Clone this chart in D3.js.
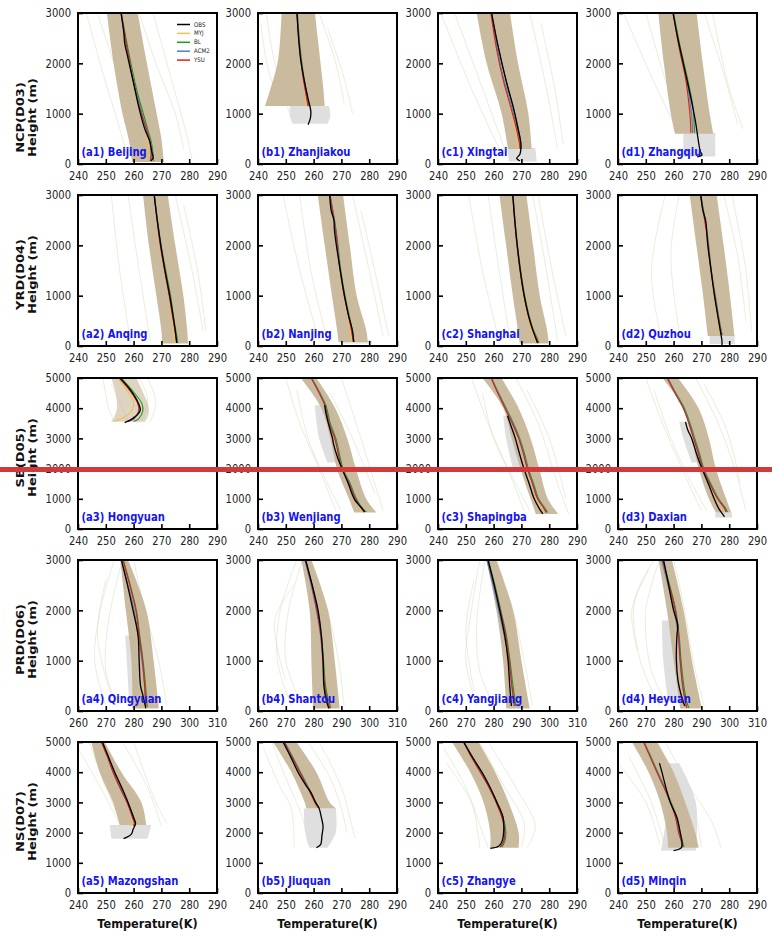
<!DOCTYPE html>
<html>
<head>
<meta charset="utf-8">
<script src="https://cdn.jsdelivr.net/npm/d3@7"></script>
<style>
  body { margin: 0; background: #fff; }
  svg { display: block; font-family: "DejaVu Sans", sans-serif; }
</style>
</head>
<body>
<svg id="chart" width="772" height="937"></svg>
<script>
// ---- stations and axes ----
const stations = ["(a1) Beijing","(b1) Zhanjiakou","(c1) Xingtai","(d1) Zhangqiu",
  "(a2) Anqing","(b2) Nanjing","(c2) Shanghai","(d2) Quzhou",
  "(a3) Hongyuan","(b3) Wenjiang","(c3) Shapingba","(d3) Daxian",
  "(a4) Qingyuan","(b4) Shantou","(c4) Yangjiang","(d4) Heyuan",
  "(a5) Mazongshan","(b5) Jiuquan","(c5) Zhangye","(d5) Minqin"];
const regions = ["NCP(D03)","YRD(D04)","SB(D05)","PRD(D06)","NS(D07)"];
const tempDomains = [[240,290],[240,290],[240,290],[260,310],[240,290]];
const tempTicks = [[240,250,260,270,280,290],[240,250,260,270,280,290],[240,250,260,270,280,290],
  [260,270,280,290,300,310],[240,250,260,270,280,290]];
const heightTops = [3000,3000,5000,3000,5000];
const heightTicks = [[0,1000,2000,3000],[0,1000,2000,3000],[0,1000,2000,3000,4000,5000],
  [0,1000,2000,3000],[0,1000,2000,3000,4000,5000]];
const schemes = ["OBS","MYJ","BL","ACM2","YSU"];

// ---- observed profiles [T(K), height(m)] ----
const obs = [
  [[255.5,3000],[256.5,2600],[256.8,2400],[258,2100],[260,1600],[262,1100],[264,700],[265.8,450],[266.5,250],[267,120],[266.2,60]],
  [[254,3000],[254.6,2500],[255.3,2100],[256.5,1700],[258,1300],[259,1050],[258.8,900],[258,780]],
  [[259.3,3000],[261,2500],[263,2000],[265,1550],[267.2,1100],[268.8,700],[269.8,400],[269.5,200],[268.3,110],[269.5,60]],
  [[259.8,3000],[261.5,2500],[263.5,2000],[265.5,1500],[267,1100],[268,800],[268.8,500],[269.6,250],[270.2,180],[268.5,140]],
  [[267.4,3000],[268.5,2500],[269.8,2000],[271.3,1500],[273,1000],[274.2,600],[275,300],[275.5,60]],
  [[265.8,3000],[266.3,2700],[267.3,2500],[267.5,2300],[268.2,2000],[269.6,1500],[271.1,1000],[272.6,600],[274,300],[274.4,80]],
  [[266.9,3000],[267.6,2500],[268.5,2000],[269.6,1500],[271,1000],[272.6,600],[274.2,300],[275.8,60]],
  [[269.8,3000],[270.5,2700],[271.5,2500],[272.3,2000],[273.5,1500],[274.7,1000],[275.9,600],[276.8,300],[277.4,100],[277.4,20]],
  [[256.8,3520],[259.5,3650],[262.4,3930],[261,4300],[258.5,4650],[255.3,4980]],
  [[264,4100],[264.5,3800],[265.3,3500],[266.8,3000],[267.2,2800],[268.5,2400],[270.2,2000],[272.5,1500],[274.6,1000],[277.7,650],[278.3,560]],
  [[265,3750],[266.3,3400],[267.8,3000],[269.3,2500],[270.9,2000],[272.8,1500],[274.6,1000],[276.3,700],[277.7,500]],
  [[264.3,3550],[265,3300],[266.5,3000],[268.2,2500],[270.2,2000],[272.5,1500],[274.6,1000],[276.4,650],[277.6,500],[278.3,400]],
  [[275.6,3000],[277.8,2500],[279.8,2000],[281.6,1500],[282,1000],[282.5,500],[283.4,300],[284.4,50]],
  [[277.1,3000],[279.5,2500],[281.6,2000],[282.8,1500],[283.4,1000],[283.7,500],[284.6,200],[285.5,50]],
  [[278,3000],[280.2,2500],[282.2,2000],[284,1500],[285.2,1000],[285.8,500],[286.4,100]],
  [[276.4,3000],[278.2,2500],[280,2000],[281.5,1700],[281.2,1500],[281,1000],[281.6,600],[282.8,300],[284,100]],
  [[248.8,5000],[251,4500],[253.2,4000],[255.7,3500],[258,3000],[260,2500],[260.7,2300],[259.8,2100],[259.2,1950],[256.4,1800]],
  [[249,5000],[251.8,4500],[254.4,4000],[257,3600],[259.2,3300],[260.7,3000],[262,2800],[262.8,2500],[263.4,2200],[263,1900],[262.8,1700],[262.5,1600],[261,1500]],
  [[249.2,5000],[252.4,4500],[255.8,4000],[258.7,3500],[261.2,3000],[263.4,2500],[263.6,2000],[263,1700],[261.8,1550],[258.8,1480]],
  [[254.9,4300],[255.8,4000],[257.2,3500],[258.8,3000],[261.2,2500],[262.4,2000],[263,1700],[262.8,1500],[260,1400]]
];

// ---- simulated profiles, one array per PBL scheme ----
const myj = [
  [[255.5,3000],[258,2200],[260.5,1500],[262.8,1000],[264.5,650],[265.2,400],[264.8,200],[264.5,60]],
  [[254,3000],[254.8,2400],[256,1800],[257,1400],[257.3,1150]],
  [[259,3000],[261,2300],[263.3,1700],[266.2,1100],[267.8,700],[268.6,400],[268.5,300]],
  [[259.8,3000],[262,2300],[264.3,1700],[265.6,1200],[266,900],[266,620]],
  [[267.4,3000],[269.6,2000],[272.7,1000],[274,500],[274.6,150],[274.4,60]],
  [[265.8,3000],[267.9,2300],[269.5,1500],[271,1000],[273,400],[273.8,80]],
  [[266.9,3000],[268.4,2000],[270.8,1000],[273.2,400],[274.8,150],[275,60]],
  [[269.6,3000],[272,2200],[273.4,1500],[274.7,1000],[276.3,400],[276.8,220]],
  [[254.5,4980],[257.5,4600],[260,4200],[259.5,3950],[256.5,3700],[253,3570]],
  [[259.1,5000],[262,4500],[264,4100],[265.6,3500],[267.6,3000],[270.2,2000],[272.7,1500],[274.8,1000],[277,650],[277,560]],
  [[259.1,5000],[261.5,4500],[264.1,4000],[266.7,3500],[269,3000],[270.7,2500],[272.1,2000],[273.9,1500],[275.6,1000],[277.6,700],[278.3,550]],
  [[257.7,5000],[260.5,4500],[263.5,4000],[265.5,3500],[267.2,3000],[268.9,2500],[270.5,2000],[272.9,1500],[275.6,1000],[277.8,700],[278.4,560]],
  [[276.2,3000],[278.6,2500],[280.8,2000],[282,1500],[283.1,1000],[283.7,500],[283.8,80]],
  [[277.1,3000],[279.3,2500],[281.2,2000],[282.6,1500],[283.4,1000],[283.9,500],[284.5,250],[285,60]],
  [[278,3000],[280.3,2500],[282.4,2000],[284.4,1500],[285.7,1000],[286.8,500],[287.8,100]],
  [[276,3000],[278.4,2500],[280.6,2000],[281.8,1500],[282.4,1000],[283.2,500],[283.9,150],[284,60]],
  [[248.4,5000],[250.6,4500],[252.6,4000],[255,3500],[257.6,3000],[259.5,2500],[259.8,2320],[258.6,2230]],
  [[249.4,5000],[252.2,4500],[255,4000],[257.8,3500],[260.4,3000],[261.3,2820]],
  [[249.2,5000],[252,4500],[255.2,4000],[258.3,3500],[260.9,3000],[263,2500],[264,2000],[263.8,1700],[262,1520]],
  [[249.2,5000],[251.6,4500],[254,4000],[256.5,3500],[258.8,3000],[260.7,2500],[261.8,2000],[262.9,1700],[263.2,1520]]
];
const bl = [
  [[255.6,3000],[258.3,2200],[261,1500],[263.5,1000],[265.3,650],[266.5,400],[267,200],[267.2,60]],
  [[254.2,3000],[255,2400],[256.3,1800],[257.5,1400],[258.2,1150]],
  [[259.2,3000],[261.8,2300],[264.3,1700],[267.2,1100],[268.9,700],[269.9,400],[270,300]],
  [[260,3000],[262.5,2300],[265,1700],[266.8,1200],[267.3,900],[267.5,620]],
  [[267.5,3000],[269.9,2000],[273.3,1000],[274.6,500],[275.7,150],[275.9,60]],
  [[265.9,3000],[268.1,2300],[269.8,1500],[271.3,1000],[273.6,400],[274.6,80]],
  [[267,3000],[268.6,2000],[271.2,1000],[273.8,400],[275.7,150],[276.3,60]],
  [[269.8,3000],[272.2,2200],[273.6,1500],[275,1000],[276.8,400],[277.5,220]],
  [[255.8,4980],[259.4,4600],[263,4150],[263.3,3900],[261.8,3650],[260,3560]],
  [[259.3,5000],[262.3,4500],[264.4,4100],[266,3500],[268,3000],[270.6,2000],[273.2,1500],[275.4,1000],[277.9,650],[279,570]],
  [[259.3,5000],[261.8,4500],[264.5,4000],[267.1,3500],[269.4,3000],[271.1,2500],[272.5,2000],[274.4,1500],[276.2,1000],[278.4,700],[279.4,550]],
  [[257.9,5000],[260.8,4500],[263.9,4000],[265.9,3500],[267.6,3000],[269.3,2500],[270.9,2000],[273.4,1500],[276.2,1000],[278.6,700],[279.4,560]],
  [[276.3,3000],[278.8,2500],[281,2000],[282.2,1500],[283.4,1000],[284.3,500],[284.9,80]],
  [[277.2,3000],[279.5,2500],[281.4,2000],[282.8,1500],[283.6,1000],[284.3,500],[285.2,250],[286.2,60]],
  [[278.1,3000],[280.5,2500],[282.6,2000],[284.6,1500],[285.9,1000],[287,500],[288,100]],
  [[276.1,3000],[278.6,2500],[280.8,2000],[282,1500],[282.7,1000],[283.7,500],[284.9,150],[285.5,60]],
  [[248.6,5000],[250.8,4500],[252.9,4000],[255.3,3500],[257.9,3000],[260,2500],[260.6,2300],[260.2,2220]],
  [[249.6,5000],[252.5,4500],[255.3,4000],[258.1,3500],[260.8,3000],[262,2820]],
  [[249.4,5000],[252.3,4500],[255.5,4000],[258.6,3500],[261.3,3000],[263.4,2500],[264.4,2000],[264,1700],[263,1520]],
  [[249.4,5000],[251.9,4500],[254.3,4000],[256.8,3500],[259.1,3000],[261.1,2500],[262.2,2000],[263.2,1700],[263.7,1520]]
];
const acm2 = [
  [[255.4,3000],[257.9,2200],[260.6,1500],[263,1000],[265,650],[266.2,400],[266.5,200],[266.2,60]],
  [[254.1,3000],[254.9,2400],[256.1,1800],[257.3,1400],[258.1,1150]],
  [[259.1,3000],[261.3,2300],[263.6,1700],[266.7,1100],[268.5,700],[269.5,400],[269.7,300]],
  [[259.9,3000],[262.2,2300],[264.6,1700],[266,1200],[266.6,900],[266.8,620]],
  [[267.5,3000],[269.7,2000],[272.9,1000],[274.4,500],[275.4,150],[275.6,60]],
  [[265.9,3000],[268,2300],[269.6,1500],[271.1,1000],[273.4,400],[274.4,80]],
  [[267,3000],[268.5,2000],[271,1000],[273.6,400],[275.5,150],[276.1,60]],
  [[269.7,3000],[272.1,2200],[273.5,1500],[274.9,1000],[276.7,400],[277.4,220]],
  [[255.2,4980],[258.7,4600],[261.7,4150],[262,3900],[260.2,3650],[257.8,3560]],
  [[259.2,5000],[262.1,4500],[264.1,4100],[265.7,3500],[267.7,3000],[270.3,2000],[272.9,1500],[275.1,1000],[277.6,650],[278.6,570]],
  [[259.2,5000],[261.6,4500],[264.2,4000],[266.8,3500],[269.1,3000],[270.8,2500],[272.2,2000],[274.1,1500],[275.9,1000],[278.1,700],[279,550]],
  [[257.8,5000],[260.6,4500],[263.6,4000],[265.6,3500],[267.3,3000],[269,2500],[270.6,2000],[273.1,1500],[275.9,1000],[278.3,700],[279,560]],
  [[275.8,3000],[278,2500],[280.2,2000],[281.7,1500],[283,1000],[283.9,500],[284.3,80]],
  [[276.9,3000],[279.1,2500],[281,2000],[282.5,1500],[283.3,1000],[283.9,500],[284.7,250],[285.7,60]],
  [[277.6,3000],[279.8,2500],[281.8,2000],[283.8,1500],[285.5,1000],[286.5,500],[287.4,100]],
  [[275.7,3000],[278,2500],[280.2,2000],[281.6,1500],[282.3,1000],[283.2,500],[284.3,150],[284.7,60]],
  [[248.5,5000],[250.7,4500],[252.7,4000],[255.1,3500],[257.7,3000],[259.7,2500],[260.4,2300],[259.9,2220]],
  [[249.5,5000],[252.3,4500],[255.1,4000],[257.9,3500],[260.6,3000],[261.7,2820]],
  [[249.3,5000],[252.1,4500],[255.3,4000],[258.4,3500],[261,3000],[263.1,2500],[264.1,2000],[263.7,1700],[262.5,1520]],
  [[249.3,5000],[251.7,4500],[254.1,4000],[256.6,3500],[258.9,3000],[260.8,2500],[261.9,2000],[262.9,1700],[263.4,1520]]
];
const ysu = [
  [[255.5,3000],[258,2200],[260.5,1500],[262.8,1000],[264.8,650],[266,400],[266.3,200],[266,60]],
  [[254,3000],[254.8,2400],[256,1800],[257.2,1400],[258,1150]],
  [[259,3000],[261,2300],[263.3,1700],[266.3,1100],[268.2,700],[269.3,400],[269.5,300]],
  [[259.8,3000],[262,2300],[264.3,1700],[265.5,1200],[266,900],[266.2,620]],
  [[267.4,3000],[269.6,2000],[272.8,1000],[274.3,500],[275.3,150],[275.5,60]],
  [[265.8,3000],[267.9,2300],[269.5,1500],[271,1000],[273.3,400],[274.3,80]],
  [[266.9,3000],[268.4,2000],[270.9,1000],[273.5,400],[275.4,150],[276,60]],
  [[269.6,3000],[272,2200],[273.4,1500],[274.8,1000],[276.6,400],[277.3,220]],
  [[255,4980],[258.5,4600],[261.5,4150],[261.8,3900],[260,3650],[257.5,3560]],
  [[259.1,5000],[262,4500],[264,4100],[265.6,3500],[267.6,3000],[270.2,2000],[272.8,1500],[275,1000],[277.5,650],[278.5,570]],
  [[259.1,5000],[261.5,4500],[264.1,4000],[266.7,3500],[269,3000],[270.7,2500],[272.1,2000],[274,1500],[275.8,1000],[278,700],[278.9,550]],
  [[257.7,5000],[260.5,4500],[263.5,4000],[265.5,3500],[267.2,3000],[268.9,2500],[270.5,2000],[273,1500],[275.8,1000],[278.2,700],[278.9,560]],
  [[276.2,3000],[278.6,2500],[280.8,2000],[282,1500],[283.2,1000],[284,500],[284.4,80]],
  [[277.1,3000],[279.3,2500],[281.2,2000],[282.6,1500],[283.4,1000],[284,500],[284.8,250],[285.8,60]],
  [[278,3000],[280.3,2500],[282.4,2000],[284.4,1500],[285.6,1000],[286.6,500],[287.5,100]],
  [[276,3000],[278.4,2500],[280.6,2000],[281.8,1500],[282.4,1000],[283.3,500],[284.4,150],[284.8,60]],
  [[248.4,5000],[250.6,4500],[252.6,4000],[255,3500],[257.6,3000],[259.6,2500],[260.3,2300],[259.8,2220]],
  [[249.4,5000],[252.2,4500],[255,4000],[257.8,3500],[260.5,3000],[261.6,2820]],
  [[249.2,5000],[252,4500],[255.2,4000],[258.3,3500],[260.9,3000],[263,2500],[264,2000],[263.6,1700],[262.4,1520]],
  [[249.2,5000],[251.6,4500],[254,4000],[256.5,3500],[258.8,3000],[260.7,2500],[261.8,2000],[262.8,1700],[263.3,1520]]
];

// ---- envelope of all simulated members [height, Tmin, Tmax] ----
const modelSpread = [
  [[3000,250.4,261.5],[2000,252.8,264.8],[1000,256,268.3],[500,258.2,270],[100,259.3,270.8],[40,259.5,271]],
  [[3000,248.5,260.5],[2500,248,261.5],[2000,247,262.5],[1500,244.5,263.5],[1150,242.5,264]],
  [[3000,253.9,265.9],[2000,257.5,268.8],[1000,262.9,272.5],[300,265.2,273.7]],
  [[3000,254.5,268.3],[2000,256.5,270.5],[1000,259,273],[600,260.5,274.3]],
  [[3000,263.4,272.3],[2000,265.5,275],[1000,268.2,277.9],[300,270,279.3],[50,270.3,279.6]],
  [[3000,261.5,270.6],[2000,264,273],[1000,266.6,275.5],[300,268.5,279],[80,269,279.5]],
  [[3000,262.1,271.8],[2000,264.5,274.2],[1000,266.9,276.6],[300,268.8,279.3],[50,269.4,279.8]],
  [[3000,265.8,275.5],[2000,268.2,278],[1000,270.6,280.3],[200,272.3,281.9]],
  [[5000,252,261],[4500,253.5,263.5],[4000,254,265.5],[3700,253,265],[3550,252,264]],
  [[5000,255.4,261],[4000,262.8,267.8],[3000,266,272.1],[2000,268.4,275.2],[1000,272.7,278.9],[550,274.6,282.6]],
  [[5000,256,262.8],[4000,263.5,269],[3000,266.5,273.3],[2000,269.6,276.4],[1000,273.3,279.5],[500,275.2,283.2]],
  [[5000,256,261.6],[4000,263.5,269],[3000,266.5,272.7],[2000,269,275.2],[1000,272.7,278.9],[550,275.2,280.7]],
  [[3000,275.2,278],[2000,277.2,284.6],[1000,279.2,287.2],[50,279.6,289.1]],
  [[3000,275.6,279.2],[2000,278.6,285.2],[1000,279.2,287.6],[50,279.8,289.4]],
  [[3000,277.4,281],[2000,281,287],[1000,283.4,290],[50,284.6,293]],
  [[3000,274.6,279.4],[2000,277.6,283.6],[1000,280,286.6],[50,282.4,290.2]],
  [[5000,244.8,249.6],[4000,247.8,255.6],[3000,252.6,262.8],[2250,255,264.6]],
  [[5000,245.4,253.8],[4000,252,261],[3000,256.8,265.8],[2800,257.4,268.2]],
  [[5000,245,254.6],[4000,251.6,260.6],[3000,256.4,265.4],[2000,258.8,269],[1500,258.8,269]],
  [[5000,245,254],[4000,251,260],[3000,255.2,264.2],[2000,257.6,267.8],[1500,258,269]]
];

// ---- envelope of all soundings [height, Tmin, Tmax]; a station may have several pieces ----
const obsSpread = [
  [],
  [[[1150,251.5,265.5],[950,251.5,266],[800,252.5,265]]],
  [[[320,265,275],[50,265.5,275.5]]],
  [[[620,263.5,275],[150,263.5,275]]],
  [],
  [[[110,270,281],[50,270,281]]],
  [],
  [[[220,273,282],[40,273,282]]],
  [],
  [[[4100,260.4,266],[3000,262,270],[2200,265,271]]],
  [[[3750,263.5,268],[3000,264.5,270],[2000,267,272]]],
  [[[3550,262,266.5],[3000,263.5,268.5],[2200,266.5,270.5]],[[550,275,281],[380,275,281]]],
  [[[1500,277,281],[100,278.5,281.5]]],
  [],
  [],
  [[[1800,275.8,280],[1000,276.3,281],[200,278,282.5]]],
  [[[2250,251.4,266.4],[1800,252,265]]],
  [[[2800,256.5,268],[2000,257,268],[1500,258.5,265]]],
  [],
  [[[4300,258,262],[3000,258,268],[1400,255.5,268]]]
];

// ---- individual outlying members [T, height] ----
const members = [
  [[[243,3000],[249,1800],[255,700],[258,100]],[[247,3000],[253,2000],[261,800],[264,100]],[[262,3000],[268,2000],[275,1000],[278,300]],[[267,3000],[273,1800],[279,600],[281,100]]],
  [[[241,2800],[244,1800],[249,1150]],[[262,3000],[268,2000],[271,1200]],[[265,2700],[271,1700],[274,1000]],[[243,3000],[246,2000],[252,900]]],
  [[[241,3000],[252,1500],[262,300]],[[246,3000],[256,1500],[264,300]],[[273,3000],[279,1500],[283,300]],[[277,2800],[282,1500],[285,400]]],
  [[[242,3000],[254,1500],[262,600]],[[250,3000],[258,1500],[264,600]],[[274,3000],[280,1500],[285,700]],[[271,3000],[278,1800],[283,800]]],
  [[[252,3000],[255,1500],[259,50]],[[258,3000],[262,1500],[266,100]],[[275,3000],[281,1500],[285,300]],[[278,2800],[283,1500],[286,300]]],
  [[[249,3000],[255,1500],[262,100]],[[255,3000],[259,1500],[265,100]],[[274,3000],[280,1500],[285,200]],[[277,2700],[282,1500],[287,200]]],
  [[[251,3000],[256,1500],[262,100]],[[258,3000],[262,1500],[266,100]],[[274,3000],[279,1500],[283,100]],[[276,3000],[281,1500],[286,200]]],
  [[[257,3000],[252,1500],[255,300]],[[262,3000],[259,1800],[262,300]],[[281,3000],[286,1500],[288,300]],[[278,3000],[283,1800],[286,500]]],
  [[[249,5000],[251,4000],[253,3550]],[[265,5000],[268,4200],[266,3550]],[[252,4800],[256,4000],[258,3550]],[[262,5000],[265,4300],[263,3600]]],
  [[[250,5000],[255,3500],[262,2000],[268,600]],[[254,4600],[258,3000],[265,1500],[270,600]],[[270,5000],[277,3000],[285,600]],[[266,4500],[274,3000],[282,1200]]],
  [[[252,5000],[258,3500],[265,2000],[271,600]],[[256,4500],[260,3000],[268,1500],[273,600]],[[268,5000],[276,3500],[283,1500],[287,500]],[[272,4600],[280,3000],[286,1000]]],
  [[[250,5000],[256,3500],[263,2000],[270,600]],[[253,4600],[259,3000],[266,1600],[272,600]],[[268,5000],[276,3500],[282,2000],[286,600]],[[271,4800],[279,3300],[284,1500]]],
  [[[273,3000],[268,2000],[266,1000],[270,100]],[[276,3000],[271,1800],[270,800],[274,100]],[[280,3000],[284,2000],[289,1000],[292,100]],[[270,2600],[267,1500],[272,300]]],
  [[[274,3000],[268,2000],[267,1000],[272,100]],[[276,3000],[271,2000],[270,1000],[276,100]],[[279,3000],[285,2000],[289,1000],[291,100]],[[273,2500],[266,1800],[270,600]]],
  [[[275,3000],[272,2000],[270,1000],[274,100]],[[277,3000],[274,1800],[275,800],[280,100]],[[281,3000],[287,2000],[291,1000],[294,100]],[[273,2600],[270,1600],[273,400]]],
  [[[273,3000],[266,2200],[268,1000],[275,100]],[[275,3000],[270,2000],[272,800],[278,100]],[[280,3000],[284,2000],[287,1000],[291,100]],[[271,2800],[265,2000],[267,1200]]],
  [[[240,4800],[248,3500],[255,2300]],[[244,5000],[250,3500],[256,2200]],[[260,5000],[268,3000],[272,2300]],[[256,5000],[265,3500],[270,2200]]],
  [[[242,4800],[248,3500],[252,2800],[253,1500]],[[262,5000],[270,3500],[273,2500],[275,1800]],[[258,5000],[266,3800],[270,2800],[272,2000]],[[245,5000],[250,3800],[256,2500],[258,1600]]],
  [[[242,4800],[250,3500],[256,2000],[258,1500]],[[243,4300],[252,3000],[255,1500]],[[258,5000],[268,3500],[275,2200],[272,1500]],[[255,5000],[264,3500],[271,2300],[270,1500]]],
  [[[240,4300],[250,3000],[255,1600]],[[244,4500],[252,3000],[257,1500]],[[257,5000],[266,3500],[274,2300],[277,1500]],[[254,5000],[262,3700],[268,2500],[270,1500]]]
];

// ---- layout ----
const svg = d3.select("#chart");
const colX = [78, 258, 438, 618];
const rowY = [13, 195, 378, 560, 742];
const PW = 139, PH = 151;
const SQ = 0.87;               // horizontal squeeze applied to all text
const schemeColor = {OBS: "#000000", MYJ: "#f6c04a", BL: "#1e9a1e", ACM2: "#4b7fd6", YSU: "#d92020"};
const lineSets = [["MYJ", myj], ["BL", bl], ["ACM2", acm2], ["YSU", ysu]];

const defs = svg.append("defs");
defs.append("filter").attr("id", "soft")
  .append("feGaussianBlur").attr("stdDeviation", 0.6);

stations.forEach((name, i) => {
  const r = Math.floor(i / 4), c = i % 4;
  const x = d3.scaleLinear().domain(tempDomains[r]).range([0, PW]);
  const y = d3.scaleLinear().domain([0, heightTops[r]]).range([PH, 0]);
  const g = svg.append("g").attr("transform", `translate(${colX[c]},${rowY[r]})`);

  defs.append("clipPath").attr("id", "clip" + i)
    .append("rect").attr("width", PW).attr("height", PH);
  const plot = g.append("g").attr("clip-path", `url(#clip${i})`);

  const line = d3.line().x(d => x(d[0])).y(d => y(d[1])).curve(d3.curveCatmullRom);
  const obsLine = d3.line().x(d => x(d[0])).y(d => y(d[1])).curve(d3.curveCatmullRom.alpha(0.5));
  const band = d3.area().y(d => y(d[0])).x0(d => x(d[1])).x1(d => x(d[2])).curve(d3.curveCatmullRom);

  // outlying members
  plot.selectAll("path.member").data(members[i]).join("path")
    .attr("class", "member").attr("d", line)
    .attr("fill", "none").attr("stroke", "#c9d0a6").attr("stroke-opacity", 0.55)
    .attr("stroke-width", 0.7);

  // sounding envelope
  plot.selectAll("path.obsband").data(obsSpread[i]).join("path")
    .attr("class", "obsband").attr("d", band)
    .attr("fill", "#dcdcdc").attr("fill-opacity", 0.9).attr("filter", "url(#soft)");

  // simulated envelope
  plot.append("path").datum(modelSpread[i]).attr("d", band)
    .attr("fill", "#c7b79a").attr("fill-opacity", r === 2 && c === 0 ? 0.6 : 0.95)
    .attr("filter", "url(#soft)");

  // scheme profiles
  lineSets.forEach(([k, arr]) => {
    plot.append("path").datum(arr[i]).attr("d", line)
      .attr("fill", "none").attr("stroke", schemeColor[k]).attr("stroke-width", 1.1);
  });
  plot.append("path").datum(obs[i]).attr("d", obsLine)
    .attr("fill", "none").attr("stroke", "#000").attr("stroke-width", 1.3);

  // station label
  g.append("text").attr("transform", `translate(3.5,${PH - 8.5}) scale(${SQ},1)`)
    .attr("font-size", 11.5).attr("font-weight", "bold").attr("fill", "#1515f0")
    .text(name);

  // axes with inward ticks
  const xAxis = d3.axisBottom(x).tickValues(tempTicks[r]).tickFormat(d3.format("d"))
    .tickSizeInner(-5).tickSizeOuter(0).tickPadding(7.5);
  const yAxis = d3.axisLeft(y).tickValues(heightTicks[r]).tickFormat(d3.format("d"))
    .tickSizeInner(-5).tickSizeOuter(0).tickPadding(8);
  const gx = g.append("g").attr("transform", `translate(0,${PH})`).call(xAxis);
  const gy = g.append("g").call(yAxis);
  [gx, gy].forEach(a => {
    a.select(".domain").remove();
    a.selectAll(".tick line").attr("stroke", "#000").attr("stroke-width", 1.6);
    a.selectAll(".tick text").attr("font-size", 11.5).attr("fill", "#222")
      .attr("font-family", "DejaVu Sans").attr("transform", `scale(${SQ},1)`);
  });

  // frame
  g.append("rect").attr("width", PW).attr("height", PH)
    .attr("fill", "none").attr("stroke", "#000").attr("stroke-width", 2);

  // legend in the first panel
  if (i === 0) {
    const lg = g.append("g").attr("transform", "translate(99,11.5)");
    schemes.forEach((s, j) => {
      const row = lg.append("g").attr("transform", `translate(0,${j * 8.9})`);
      row.append("line").attr("x1", 0).attr("x2", 13)
        .attr("stroke", schemeColor[s]).attr("stroke-width", 1.5);
      row.append("text").attr("transform", `translate(17,2) scale(${SQ},1)`)
        .attr("font-size", 6.3).attr("fill", "#222").text(s);
    });
  }
});

// region labels
const labelCenters = rowY.map((t, r) => t + PH / 2 + (r === 0 ? 29 : 4));
regions.forEach((reg, r) => {
  [[20, reg], [32, "Height (m)"]].forEach(([lx, txt]) => {
    svg.append("text")
      .attr("transform", `translate(${lx},${labelCenters[r]}) rotate(-90) scale(1,${SQ})`)
      .attr("text-anchor", "middle").attr("dominant-baseline", "central")
      .attr("font-size", 13).attr("font-weight", "bold").attr("fill", "#111")
      .text(txt);
  });
});

// temperature axis titles
colX.forEach(cx => {
  svg.append("text")
    .attr("transform", `translate(${cx + PW / 2},928) scale(${SQ},1)`)
    .attr("text-anchor", "middle").attr("font-size", 13).attr("font-weight", "bold")
    .attr("fill", "#111").text("Temperature(K)");
});

// horizontal marker line across the figure
svg.append("rect").attr("x", 0).attr("y", 467).attr("width", 772).attr("height", 5)
  .attr("fill", "#d03a3a");
</script>
</body>
</html>
